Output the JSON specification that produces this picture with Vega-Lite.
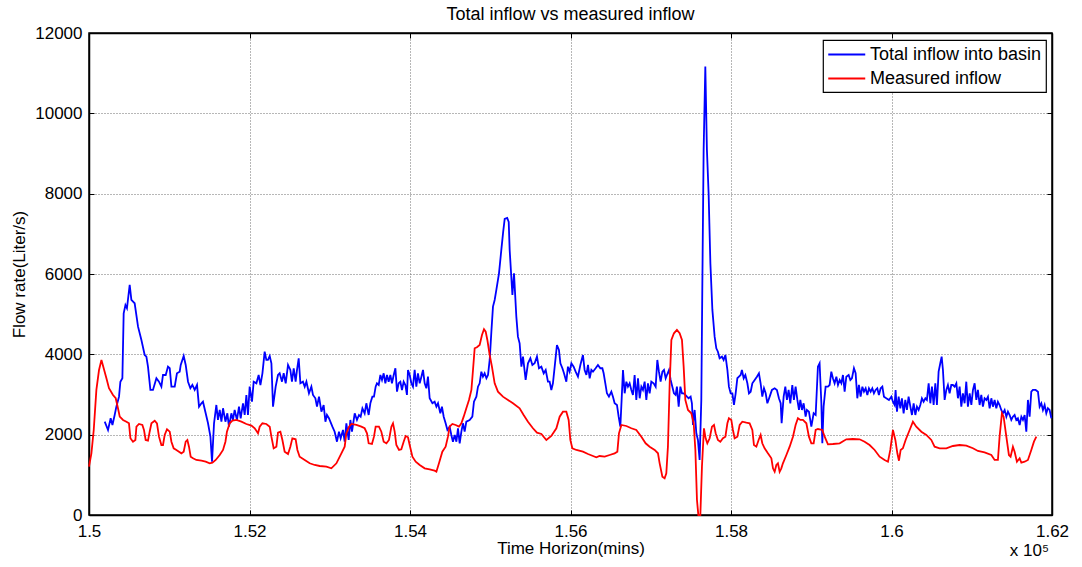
{
  "$schema": "https://vega.github.io/schema/vega-lite/v6.json",
  "width": 963,
  "height": 482,
  "autosize": {"type": "none"},
  "padding": {"left": 89, "top": 33, "right": 30, "bottom": 52},
  "background": "#ffffff",
  "title": {
    "text": "Total inflow vs measured inflow",
    "font": "Liberation Sans",
    "fontSize": 18,
    "fontWeight": "normal",
    "color": "#000000",
    "anchor": "middle",
    "baseline": "alphabetic",
    "offset": -14
  },
  "datasets": {
    "total": [
      {"t":150196,"q":2323},{"t":150237,"q":2117},{"t":150270,"q":2408},{"t":150292,"q":2241},{"t":150320,"q":2490},{"t":150341,"q":2697},{"t":150374,"q":2946},{"t":150391,"q":3319},{"t":150416,"q":3404},{"t":150432,"q":5022},{"t":150454,"q":5229},{"t":150473,"q":5147},{"t":150507,"q":5727},{"t":150528,"q":5354},{"t":150569,"q":5271},{"t":150611,"q":4689},{"t":150653,"q":4358},{"t":150694,"q":3984},{"t":150715,"q":3942},{"t":150735,"q":3693},{"t":150765,"q":3113},{"t":150797,"q":3113},{"t":150840,"q":3404},{"t":150872,"q":3319},{"t":150902,"q":3195},{"t":150922,"q":3486},{"t":150956,"q":3486},{"t":150984,"q":3693},{"t":151006,"q":3653},{"t":151027,"q":3195},{"t":151068,"q":3195},{"t":151096,"q":3528},{"t":151130,"q":3568},{"t":151143,"q":3735},{"t":151180,"q":3959},{"t":151205,"q":3735},{"t":151234,"q":3319},{"t":151263,"q":3155},{"t":151288,"q":3237},{"t":151317,"q":3113},{"t":151346,"q":3237},{"t":151371,"q":2697},{"t":151401,"q":2781},{"t":151420,"q":2821},{"t":151454,"q":2532},{"t":151483,"q":2283},{"t":151513,"q":1950},{"t":151533,"q":1327},{"t":151558,"q":2283},{"t":151587,"q":2739},{"t":151607,"q":2366},{"t":151629,"q":2615},{"t":151650,"q":2323},{"t":151670,"q":2657},{"t":151700,"q":2323},{"t":151724,"q":2532},{"t":151744,"q":2199},{"t":151774,"q":2532},{"t":151794,"q":2366},{"t":151815,"q":2615},{"t":151844,"q":2366},{"t":151869,"q":2697},{"t":151890,"q":2408},{"t":151919,"q":2781},{"t":151940,"q":2490},{"t":151961,"q":2988},{"t":151981,"q":2490},{"t":152002,"q":3195},{"t":152031,"q":2821},{"t":152052,"q":3319},{"t":152086,"q":3279},{"t":152114,"q":3486},{"t":152136,"q":3237},{"t":152161,"q":3528},{"t":152189,"q":4066},{"t":152210,"q":3860},{"t":152230,"q":3860},{"t":152252,"q":3959},{"t":152273,"q":3777},{"t":152293,"q":2697},{"t":152326,"q":3195},{"t":152355,"q":3486},{"t":152376,"q":3528},{"t":152405,"q":3319},{"t":152426,"q":3528},{"t":152451,"q":3279},{"t":152480,"q":3735},{"t":152509,"q":3611},{"t":152529,"q":3319},{"t":152551,"q":3653},{"t":152575,"q":3319},{"t":152592,"q":3611},{"t":152613,"q":3902},{"t":152634,"q":3279},{"t":152666,"q":3319},{"t":152688,"q":3195},{"t":152709,"q":3319},{"t":152741,"q":3030},{"t":152771,"q":3195},{"t":152791,"q":2988},{"t":152821,"q":2906},{"t":152841,"q":2697},{"t":152866,"q":2946},{"t":152896,"q":2572},{"t":152924,"q":2739},{"t":152946,"q":2323},{"t":152965,"q":2490},{"t":152990,"q":2408},
      {"t":153033,"q":2199},{"t":153061,"q":2074},{"t":153090,"q":1825},{"t":153115,"q":2074},{"t":153136,"q":1910},{"t":153165,"q":2117},{"t":153186,"q":1825},{"t":153207,"q":2283},{"t":153236,"q":1868},{"t":153257,"q":2366},{"t":153277,"q":2074},{"t":153311,"q":2532},{"t":153339,"q":2366},{"t":153364,"q":2490},{"t":153385,"q":2448},{"t":153407,"q":2657},{"t":153435,"q":2532},{"t":153456,"q":2781},{"t":153485,"q":2490},{"t":153506,"q":2781},{"t":153531,"q":2946},{"t":153551,"q":2946},{"t":153572,"q":3195},{"t":153588,"q":3279},{"t":153610,"q":3237},{"t":153631,"q":3486},{"t":153651,"q":3362},{"t":153672,"q":3528},{"t":153693,"q":3279},{"t":153713,"q":3486},{"t":153734,"q":3319},{"t":153755,"q":3486},{"t":153775,"q":3279},{"t":153797,"q":3486},{"t":153818,"q":3653},{"t":153838,"q":3070},{"t":153859,"q":3279},{"t":153880,"q":3319},{"t":153900,"q":3113},{"t":153921,"q":3319},{"t":153942,"q":3237},{"t":153962,"q":2988},{"t":153975,"q":3611},{"t":153996,"q":3486},{"t":154017,"q":3279},{"t":154037,"q":3195},{"t":154058,"q":3611},{"t":154079,"q":3195},{"t":154099,"q":3528},{"t":154121,"q":3279},{"t":154142,"q":3444},{"t":154162,"q":3611},{"t":154183,"q":3279},{"t":154204,"q":3155},{"t":154224,"q":3444},{"t":154245,"q":2906},{"t":154279,"q":2781},{"t":154307,"q":2821},{"t":154329,"q":2697},{"t":154349,"q":2781},{"t":154378,"q":2532},{"t":154398,"q":2697},{"t":154420,"q":2448},{"t":154444,"q":2283},{"t":154466,"q":2117},{"t":154494,"q":2199},{"t":154515,"q":1992},{"t":154535,"q":1825},{"t":154557,"q":1992},{"t":154578,"q":1825},{"t":154598,"q":2159},{"t":154619,"q":1785},{"t":154640,"q":2074},{"t":154660,"q":2283},{"t":154681,"q":2074},{"t":154702,"q":2323},{"t":154743,"q":2366},{"t":154777,"q":2448},{"t":154797,"q":2821},{"t":154827,"q":2946},{"t":154847,"q":3195},{"t":154868,"q":3279},{"t":154889,"q":3568},{"t":154909,"q":3444},{"t":154930,"q":3528},{"t":154952,"q":3404},{"t":154972,"q":3486},{"t":154993,"q":3860},{"t":155014,"q":4564},{"t":155034,"q":5187},{"t":155055,"q":5354},{"t":155076,"q":5603},{"t":155109,"q":6018},{"t":155138,"q":6599},{"t":155161,"q":7047},{"t":155180,"q":7370},{"t":155211,"q":7395},{"t":155230,"q":7296},{"t":155242,"q":6599},{"t":155276,"q":5478},{"t":155296,"q":6018},{"t":155325,"q":4938},{"t":155345,"q":4440},{"t":155366,"q":4275},{"t":155388,"q":3693},{"t":155408,"q":3942},{"t":155441,"q":3362},{"t":155470,"q":3777},{"t":155500,"q":3902},{"t":155525,"q":3735},{"t":155553,"q":3777},{"t":155582,"q":3942},{"t":155607,"q":3653},{"t":155637,"q":3693},{"t":155666,"q":3528},{"t":155691,"q":3611},{"t":155719,"q":3319},{"t":155740,"q":3319},{"t":155761,"q":3113},{"t":155781,"q":3279},{"t":155803,"q":3693},{"t":155831,"q":4233},{"t":155856,"q":4109},{"t":155874,"q":3777},{"t":155899,"q":3653},{"t":155919,"q":3528},{"t":155948,"q":3319},{"t":155968,"q":3693},{"t":155989,"q":3568},
      {"t":156011,"q":3777},{"t":156039,"q":3693},{"t":156064,"q":3568},{"t":156093,"q":3444},{"t":156123,"q":3735},{"t":156155,"q":3984},{"t":156176,"q":3611},{"t":156198,"q":3486},{"t":156218,"q":3735},{"t":156239,"q":3404},{"t":156260,"q":3611},{"t":156280,"q":3568},{"t":156313,"q":3653},{"t":156342,"q":3735},{"t":156372,"q":3653},{"t":156397,"q":3653},{"t":156413,"q":3528},{"t":156434,"q":3279},{"t":156454,"q":3030},{"t":156479,"q":2946},{"t":156509,"q":3070},{"t":156529,"q":2946},{"t":156550,"q":2781},{"t":156579,"q":2739},{"t":156600,"q":2448},{"t":156621,"q":2199},{"t":156637,"q":2864},{"t":156654,"q":3611},{"t":156675,"q":3030},{"t":156696,"q":3319},{"t":156716,"q":3195},{"t":156737,"q":3279},{"t":156758,"q":3113},{"t":156778,"q":2988},{"t":156799,"q":3486},{"t":156820,"q":2864},{"t":156841,"q":3404},{"t":156862,"q":2906},{"t":156883,"q":3195},{"t":156903,"q":3113},{"t":156924,"q":3319},{"t":156945,"q":2864},{"t":156965,"q":3279},{"t":156986,"q":3030},{"t":157007,"q":3319},{"t":157036,"q":3279},{"t":157061,"q":3195},{"t":157082,"q":3860},{"t":157102,"q":3568},{"t":157123,"q":3319},{"t":157145,"q":3568},{"t":157165,"q":3611},{"t":157186,"q":3404},{"t":157202,"q":3486},{"t":157227,"q":3611},{"t":157248,"q":3362},{"t":157269,"q":3195},{"t":157289,"q":3030},{"t":157310,"q":2988},{"t":157326,"q":3195},{"t":157348,"q":2697},{"t":157369,"q":3195},{"t":157389,"q":3030},{"t":157410,"q":3030},{"t":157431,"q":2988},{"t":157451,"q":2946},{"t":157472,"q":2906},{"t":157497,"q":2946},{"t":157513,"q":2781},{"t":157526,"q":2241},{"t":157547,"q":2615},{"t":157568,"q":2034},{"t":157588,"q":1868},{"t":157609,"q":1370},{"t":157630,"q":2864},{"t":157643,"q":5769},{"t":157659,"q":9089},{"t":157680,"q":11163},{"t":157700,"q":9089},{"t":157721,"q":8010},{"t":157743,"q":6267},{"t":157768,"q":5105},{"t":157796,"q":4440},{"t":157817,"q":4151},{"t":157837,"q":4066},{"t":157858,"q":3902},{"t":157887,"q":3942},{"t":157908,"q":3860},{"t":157930,"q":3984},{"t":157955,"q":3611},{"t":157974,"q":3195},{"t":157996,"q":3030},{"t":158017,"q":3030},{"t":158037,"q":2739},{"t":158058,"q":3030},{"t":158079,"q":3404},{"t":158099,"q":3444},{"t":158120,"q":3486},{"t":158136,"q":3611},{"t":158158,"q":3404},{"t":158179,"q":3486},{"t":158204,"q":3279},{"t":158224,"q":3030},{"t":158245,"q":3070},{"t":158266,"q":3279},{"t":158295,"q":3362},{"t":158323,"q":3444},{"t":158348,"q":3528},{"t":158369,"q":3279},{"t":158390,"q":2946},{"t":158411,"q":3155},{"t":158432,"q":3030},{"t":158453,"q":2781},{"t":158482,"q":2946},{"t":158510,"q":3113},{"t":158544,"q":3155},{"t":158572,"q":3113},{"t":158597,"q":2906},{"t":158619,"q":2781},{"t":158631,"q":2283},{"t":158656,"q":2946},{"t":158677,"q":3195},{"t":158697,"q":2864},{"t":158718,"q":3113},{"t":158739,"q":2781},{"t":158764,"q":3237},{"t":158784,"q":2864},{"t":158805,"q":3195},{"t":158827,"q":2864},{"t":158847,"q":2615},{"t":158864,"q":2864},{"t":158884,"q":2615},{"t":158905,"q":2781},{"t":158930,"q":2448},{"t":158946,"q":2615},
      {"t":158971,"q":2572},{"t":159001,"q":2199},{"t":159030,"q":2532},{"t":159055,"q":2490},{"t":159083,"q":3693},{"t":159104,"q":3777},{"t":159126,"q":2781},{"t":159138,"q":1785},{"t":159154,"q":2697},{"t":159179,"q":3195},{"t":159208,"q":3195},{"t":159229,"q":3237},{"t":159250,"q":3568},{"t":159270,"q":3404},{"t":159291,"q":3279},{"t":159313,"q":3444},{"t":159333,"q":3237},{"t":159354,"q":3362},{"t":159375,"q":3279},{"t":159395,"q":3486},{"t":159416,"q":3070},{"t":159437,"q":3444},{"t":159466,"q":3486},{"t":159487,"q":3362},{"t":159507,"q":3404},{"t":159532,"q":3653},{"t":159553,"q":3528},{"t":159574,"q":2906},{"t":159594,"q":3237},{"t":159615,"q":2946},{"t":159637,"q":3195},{"t":159657,"q":3070},{"t":159678,"q":3155},{"t":159699,"q":2988},{"t":159719,"q":3155},{"t":159740,"q":3070},{"t":159761,"q":3155},{"t":159781,"q":3030},{"t":159802,"q":3113},{"t":159823,"q":3155},{"t":159843,"q":2988},{"t":159865,"q":3155},{"t":159886,"q":3195},{"t":159906,"q":2946},{"t":159935,"q":2906},{"t":159968,"q":2864},{"t":159998,"q":2946},{"t":160018,"q":2821},{"t":160039,"q":2739},{"t":160051,"q":3113},{"t":160068,"q":2572},{"t":160089,"q":2946},{"t":160110,"q":2657},{"t":160130,"q":2906},{"t":160151,"q":2532},{"t":160172,"q":2864},{"t":160192,"q":2615},{"t":160213,"q":2946},{"t":160235,"q":2697},{"t":160255,"q":2490},{"t":160276,"q":2781},{"t":160297,"q":2490},{"t":160317,"q":2697},{"t":160338,"q":2615},{"t":160359,"q":2739},{"t":160379,"q":2906},{"t":160400,"q":2821},{"t":160422,"q":2906},{"t":160441,"q":2864},{"t":160463,"q":3279},{"t":160484,"q":2781},{"t":160504,"q":3195},{"t":160525,"q":2739},{"t":160546,"q":3279},{"t":160566,"q":2739},{"t":160587,"q":3568},{"t":160608,"q":3777},{"t":160625,"q":3942},{"t":160641,"q":3611},{"t":160662,"q":2864},{"t":160683,"q":3113},{"t":160703,"q":3237},{"t":160724,"q":3030},{"t":160745,"q":3237},{"t":160765,"q":3237},{"t":160787,"q":3195},{"t":160808,"q":3279},{"t":160828,"q":2906},{"t":160849,"q":3195},{"t":160870,"q":2697},{"t":160890,"q":3030},{"t":160911,"q":2781},{"t":160932,"q":3319},{"t":160952,"q":2697},{"t":160974,"q":3030},{"t":160995,"q":2739},{"t":161015,"q":3113},{"t":161036,"q":3279},{"t":161057,"q":2864},{"t":161077,"q":3113},{"t":161098,"q":2739},{"t":161119,"q":2988},{"t":161139,"q":2697},{"t":161160,"q":2906},{"t":161182,"q":2864},{"t":161202,"q":2946},{"t":161223,"q":2657},{"t":161244,"q":2906},{"t":161264,"q":2697},{"t":161285,"q":2864},{"t":161306,"q":2657},{"t":161326,"q":2821},{"t":161347,"q":2739},{"t":161368,"q":2615},{"t":161388,"q":2532},{"t":161410,"q":2615},{"t":161431,"q":2448},{"t":161451,"q":2572},{"t":161472,"q":2490},{"t":161493,"q":2366},{"t":161513,"q":2448},{"t":161534,"q":2490},{"t":161555,"q":2366},{"t":161575,"q":2408},{"t":161597,"q":2241},{"t":161618,"q":2448},{"t":161638,"q":2366},{"t":161659,"q":2490},{"t":161680,"q":2074},{"t":161700,"q":2864},{"t":161721,"q":2448},{"t":161742,"q":3070},{"t":161762,"q":3113},{"t":161796,"q":3113},{"t":161825,"q":3070},{"t":161846,"q":2697},{"t":161867,"q":2781},{"t":161887,"q":2615},{"t":161908,"q":2739},{"t":161929,"q":2532},{"t":161949,"q":2657},{"t":161970,"q":2615},{"t":161992,"q":2408}
    ],
    "measured": [
      {"t":150000,"q":1203},{"t":150030,"q":1536},{"t":150059,"q":2117},{"t":150092,"q":3113},{"t":150125,"q":3611},{"t":150155,"q":3860},{"t":150183,"q":3653},{"t":150217,"q":3404},{"t":150249,"q":3155},{"t":150299,"q":2988},{"t":150333,"q":2906},{"t":150361,"q":2657},{"t":150383,"q":2448},{"t":150424,"q":2366},{"t":150466,"q":2323},{"t":150498,"q":2283},{"t":150516,"q":1910},{"t":150548,"q":1825},{"t":150578,"q":1868},{"t":150591,"q":2199},{"t":150623,"q":2266},{"t":150665,"q":2241},{"t":150685,"q":2117},{"t":150706,"q":1868},{"t":150735,"q":1850},{"t":150756,"q":2074},{"t":150778,"q":2283},{"t":150819,"q":2348},{"t":150847,"q":2283},{"t":150872,"q":1950},{"t":150902,"q":1743},{"t":150922,"q":1743},{"t":150943,"q":1992},{"t":150972,"q":2134},{"t":151006,"q":2074},{"t":151027,"q":1825},{"t":151055,"q":1661},{"t":151089,"q":1619},{"t":151121,"q":1576},{"t":151151,"q":1536},{"t":151180,"q":1576},{"t":151205,"q":1825},{"t":151226,"q":1868},{"t":151246,"q":1701},{"t":151267,"q":1452},{"t":151296,"q":1412},{"t":151338,"q":1370},{"t":151401,"q":1352},{"t":151454,"q":1327},{"t":151504,"q":1287},{"t":151538,"q":1302},{"t":151579,"q":1370},{"t":151629,"q":1494},{"t":151670,"q":1619},{"t":151700,"q":1825},{"t":151719,"q":2074},{"t":151753,"q":2283},{"t":151787,"q":2348},{"t":151837,"q":2366},{"t":151899,"q":2323},{"t":151961,"q":2266},{"t":152024,"q":2224},{"t":152065,"q":2159},{"t":152106,"q":2034},{"t":152127,"q":2199},{"t":152161,"q":2283},{"t":152210,"q":2266},{"t":152252,"q":2199},{"t":152273,"q":1950},{"t":152301,"q":1661},{"t":152335,"q":1701},{"t":152355,"q":2049},{"t":152385,"q":2074},{"t":152410,"q":1868},{"t":152438,"q":1576},{"t":152480,"q":1519},{"t":152509,"q":1701},{"t":152534,"q":1910},{"t":152575,"q":1885},{"t":152597,"q":1619},{"t":152625,"q":1452},{"t":152688,"q":1370},{"t":152750,"q":1287},{"t":152812,"q":1245},{"t":152875,"q":1220},{"t":152958,"q":1203},{"t":153020,"q":1163},{"t":153083,"q":1287},{"t":153145,"q":1536},{"t":153186,"q":1701},{"t":153207,"q":2034},{"t":153240,"q":2199},{"t":153270,"q":2266},{"t":153332,"q":2241},{"t":153394,"q":2199},{"t":153435,"q":2159},{"t":153464,"q":2034},{"t":153485,"q":1785},{"t":153526,"q":1768},{"t":153551,"q":1950},{"t":153572,"q":2199},{"t":153613,"q":2199},{"t":153643,"q":2074},{"t":153672,"q":1825},{"t":153706,"q":1785},{"t":153738,"q":1868},{"t":153768,"q":2199},{"t":153788,"q":2283},{"t":153809,"q":2074},{"t":153830,"q":1743},{"t":153863,"q":1619},{"t":153892,"q":1636},{"t":153921,"q":1825},{"t":153946,"q":1967},{"t":153975,"q":1935},{"t":153996,"q":1743},{"t":154030,"q":1452},{"t":154071,"q":1327},{"t":154121,"q":1245},{"t":154183,"q":1163},{"t":154245,"q":1138},{"t":154307,"q":1103},{"t":154329,"q":1078},{"t":154361,"q":1287},{"t":154403,"q":1576},{"t":154444,"q":1701},{"t":154473,"q":1950},{"t":154494,"q":2199},{"t":154528,"q":2266},{"t":154569,"q":2241},{"t":154610,"q":2199},{"t":154640,"q":2283},{"t":154669,"q":2448},{"t":154702,"q":2657},{"t":154735,"q":2864},{"t":154765,"q":3113},{"t":154785,"q":3611},{"t":154806,"q":4151},{"t":154834,"q":4176},{"t":154868,"q":4233},{"t":154897,"q":4482},{"t":154922,"q":4624},{"t":154943,"q":4564},{"t":154964,"q":4358},{"t":154993,"q":3984},{"t":155021,"q":3693},{"t":155055,"q":3279},{"t":155096,"q":3070},{"t":155158,"q":2946},{"t":155221,"q":2864},{"t":155283,"q":2781},{"t":155366,"q":2657},{"t":155416,"q":2490},{"t":155470,"q":2323},{"t":155532,"q":2159},{"t":155582,"q":2049},{"t":155637,"q":2017},{"t":155699,"q":1868},{"t":155761,"q":1967},{"t":155824,"q":2159},{"t":155865,"q":2448},{"t":155906,"q":2572},{"t":155948,"q":2572},{"t":155977,"q":2366},{"t":155998,"q":1868},{"t":156023,"q":1661},{"t":156073,"q":1619},{"t":156155,"q":1576},{"t":156218,"q":1519},{"t":156280,"q":1469},{"t":156322,"q":1437},{"t":156363,"q":1469},{"t":156426,"q":1452},{"t":156488,"q":1494},{"t":156550,"q":1536},{"t":156584,"q":1576},{"t":156604,"q":2034},{"t":156634,"q":2241},{"t":156696,"q":2216},{"t":156758,"q":2159},{"t":156820,"q":2117},{"t":156883,"q":1950},{"t":156936,"q":1785},{"t":156986,"q":1701},{"t":157049,"q":1619},{"t":157090,"q":1536},{"t":157111,"q":1287},{"t":157145,"q":954},{"t":157173,"q":914},{"t":157194,"q":1038},{"t":157214,"q":1701},{"t":157236,"q":3279},{"t":157257,"q":4358},{"t":157289,"q":4524},{"t":157326,"q":4607},{"t":157360,"q":4524},{"t":157389,"q":4358},{"t":157410,"q":3693},{"t":157431,"q":2864},{"t":157464,"q":2615},{"t":157506,"q":2532},{"t":157535,"q":2283},{"t":157556,"q":1619},{"t":157576,"q":374},{"t":157593,"q":0},{"t":157618,"q":0},{"t":157638,"q":1203},{"t":157663,"q":2159},{"t":157684,"q":1910},{"t":157705,"q":1785},{"t":157734,"q":1910},{"t":157763,"q":2199},{"t":157788,"q":2241},{"t":157809,"q":2034},{"t":157837,"q":1868},{"t":157867,"q":1825},{"t":157900,"q":1910},{"t":157930,"q":1950},{"t":157955,"q":2283},{"t":157974,"q":2408},{"t":158004,"q":2366},{"t":158024,"q":2117},{"t":158045,"q":1910},{"t":158079,"q":1950},{"t":158108,"q":2241},{"t":158141,"q":2323},{"t":158191,"q":2298},{"t":158232,"q":2283},{"t":158266,"q":2117},{"t":158286,"q":1743},{"t":158316,"q":1701},{"t":158344,"q":1868},{"t":158369,"q":1992},{"t":158390,"q":1785},{"t":158419,"q":1661},{"t":158460,"q":1536},{"t":158503,"q":1412},{"t":158523,"q":1163},{"t":158544,"q":1078},{"t":158565,"q":1245},{"t":158585,"q":1287},{"t":158606,"q":1078},{"t":158627,"q":1163},{"t":158647,"q":1287},{"t":158690,"q":1494},{"t":158731,"q":1701},{"t":158772,"q":1950},{"t":158805,"q":2241},{"t":158834,"q":2408},{"t":158864,"q":2366},{"t":158896,"q":2366},{"t":158939,"q":2283},{"t":158971,"q":1950},{"t":159001,"q":1785},{"t":159030,"q":1785},{"t":159055,"q":2117},{"t":159083,"q":2141},{"t":159138,"q":2117},{"t":159167,"q":1950},{"t":159208,"q":1760},{"t":159270,"q":1768},{"t":159354,"q":1785},{"t":159437,"q":1885},{"t":159519,"q":1892},{"t":159603,"q":1885},{"t":159665,"q":1825},{"t":159727,"q":1743},{"t":159790,"q":1619},{"t":159852,"q":1452},{"t":159914,"q":1370},{"t":159956,"q":1327},{"t":159985,"q":1619},{"t":160018,"q":2117},{"t":160048,"q":1868},{"t":160073,"q":1536},{"t":160093,"q":1352},{"t":160114,"q":1619},{"t":160142,"q":1661},{"t":160176,"q":1868},{"t":160226,"q":2117},{"t":160267,"q":2323},{"t":160309,"q":2199},{"t":160372,"q":2074},{"t":160434,"q":1992},{"t":160496,"q":1868},{"t":160537,"q":1701},{"t":160600,"q":1661},{"t":160683,"q":1661},{"t":160765,"q":1718},{"t":160849,"q":1743},{"t":160932,"q":1726},{"t":161015,"q":1661},{"t":161077,"q":1594},{"t":161160,"q":1561},{"t":161244,"q":1494},{"t":161285,"q":1370},{"t":161326,"q":1370},{"t":161347,"q":1950},{"t":161376,"q":2532},{"t":161397,"q":2448},{"t":161431,"q":1950},{"t":161463,"q":1494},{"t":161484,"q":1452},{"t":161513,"q":1701},{"t":161534,"q":1576},{"t":161563,"q":1327},{"t":161597,"q":1412},{"t":161618,"q":1302},{"t":161659,"q":1327},{"t":161700,"q":1370},{"t":161742,"q":1619},{"t":161775,"q":1825},{"t":161805,"q":1950}
    ]
  },
  "layer": [
    {
      "data": {"name": "total"},
      "mark": {"type": "line", "strokeWidth": 1.8, "interpolate": "linear"},
      "encoding": {
        "x": {
          "field": "t", "type": "quantitative",
          "scale": {"domain": [150000, 162000], "nice": false, "zero": false},
          "axis": {
            "orient": "bottom",
            "values": [150000, 152000, 154000, 156000, 158000, 160000, 162000],
            "labelExpr": "format(datum.value / 100000, '~g')",
            "title": "Time Horizon(mins)",
            "labelPadding": 13,
            "titlePadding": 1,
            "grid": true,
            "labelFlush": false,
            "labelOverlap": false
          }
        },
        "y": {
          "field": "q", "type": "quantitative",
          "scale": {"domain": [0, 12000], "nice": false},
          "axis": {
            "orient": "left",
            "values": [0, 2000, 4000, 6000, 8000, 10000, 12000],
            "format": "d",
            "title": "Flow rate(Liter/s)",
            "labelPadding": 12,
            "titlePadding": 6,
            "grid": true,
            "labelFlush": false,
            "labelOverlap": false
          }
        },
        "color": {
          "datum": "Total inflow into basin",
          "scale": {
            "domain": ["Total inflow into basin", "Measured inflow"],
            "range": ["#0000ff", "#ff0000"]
          },
          "legend": {
            "title": null,
            "orient": "none",
            "legendX": 734,
            "legendY": 7,
            "symbolType": "M-1,0H3",
            "symbolSize": 342,
            "symbolStrokeWidth": 1.8,
            "labelFontSize": 18,
            "labelFont": "Liberation Sans",
            "labelColor": "#000000",
            "labelLimit": 400,
            "labelOffset": 22,
            "rowPadding": 4,
            "padding": 4,
            "strokeColor": "#000000",
            "fillColor": "#ffffff"
          }
        }
      }
    },
    {
      "data": {"name": "measured"},
      "mark": {"type": "line", "strokeWidth": 1.8},
      "encoding": {
        "x": {"field": "t", "type": "quantitative", "axis": null},
        "y": {"field": "q", "type": "quantitative", "axis": null},
        "color": {"datum": "Measured inflow"}
      }
    },
    {
      "data": {"name": "total"},
      "mark": {"type": "line", "strokeOpacity": 0},
      "encoding": {
        "x": {
          "field": "t", "type": "quantitative",
          "axis": {"orient": "top", "values": [150000, 152000, 154000, 156000, 158000, 160000, 162000], "labels": false, "title": null, "grid": false}
        },
        "y": {
          "field": "q", "type": "quantitative",
          "axis": {"orient": "right", "values": [0, 2000, 4000, 6000, 8000, 10000, 12000], "labels": false, "title": null, "grid": false}
        }
      }
    },
    {
      "data": {"values": [{"label": "x 10⁵"}]},
      "mark": {"type": "text", "align": "right", "baseline": "alphabetic", "dx": -3, "dy": 41, "fontSize": 17, "font": "Liberation Sans", "color": "#000000"},
      "encoding": {
        "x": {"datum": 162000, "type": "quantitative", "axis": null},
        "y": {"datum": 0, "type": "quantitative", "axis": null},
        "text": {"field": "label"}
      }
    }
  ],
  "resolve": {"axis": {"x": "independent", "y": "independent"}},
  "config": {
    "view": {"stroke": "#000000", "strokeWidth": 1.5},
    "axis": {
      "labelFont": "Liberation Sans",
      "titleFont": "Liberation Sans",
      "labelFontSize": 17,
      "titleFontSize": 17,
      "titleFontWeight": "normal",
      "labelColor": "#000000",
      "titleColor": "#000000",
      "domainColor": "#000000",
      "domainWidth": 1.5,
      "tickColor": "#000000",
      "tickWidth": 1,
      "tickSize": -5,
      "gridColor": "#6e6e6e",
      "gridDash": [1, 2],
      "gridWidth": 1
    },
    "legend": {"strokeWidth": 1.2}
  }
}
